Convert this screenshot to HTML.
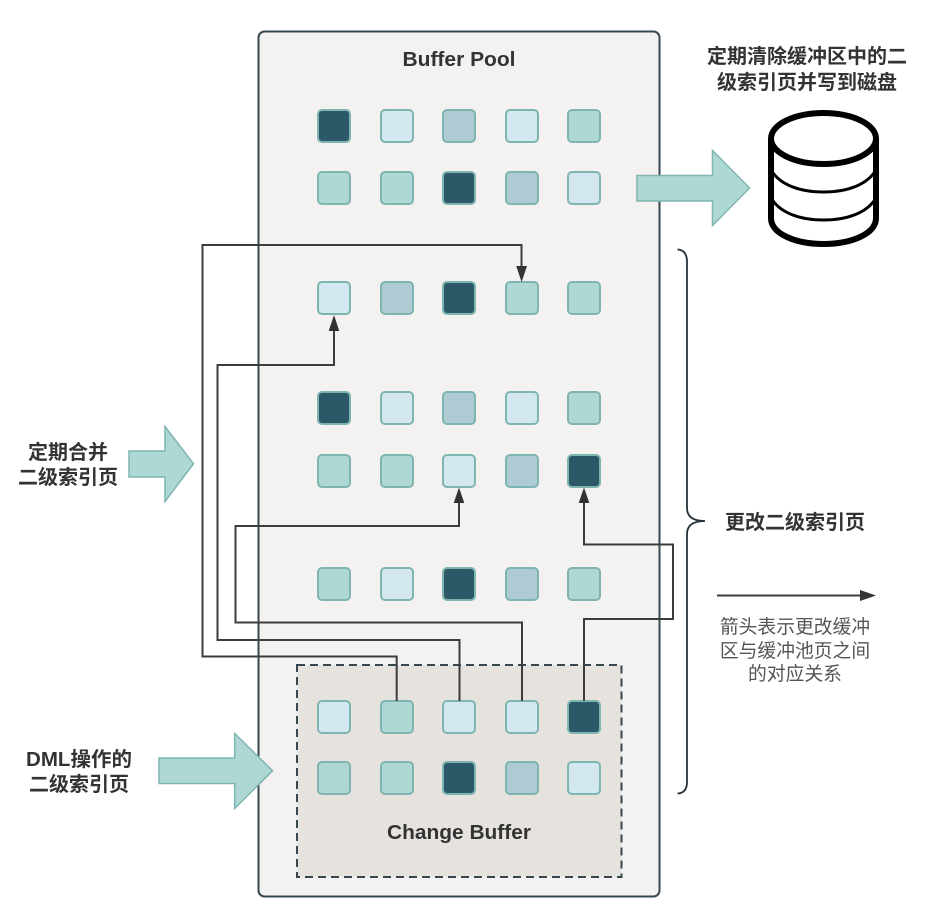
<!DOCTYPE html>
<html lang="zh">
<head>
<meta charset="utf-8">
<title>Change Buffer</title>
<style>
html,body{margin:0;padding:0;background:#fff;width:926px;height:917px;overflow:hidden}
svg{display:block}
.s{stroke:#7fb5b0;stroke-width:2}
.d{fill:#2c5967}.l{fill:#d2e7ef}.g{fill:#aecbd3}.t{fill:#aed8d4}
.c{fill:none;stroke:#3c3c3c;stroke-width:2}
.h{fill:#333;stroke:none}
.f{fill:#aed8d4;stroke:#7fb5b0;stroke-width:1.5}
text{font-family:"Liberation Sans","Noto Sans CJK SC",sans-serif;fill:#333;text-anchor:middle}
.b{font-weight:700;font-size:20px}
.r{font-size:18.8px;fill:#555}
</style>
</head>
<body>
<svg width="926" height="917" viewBox="0 0 926 917" xmlns="http://www.w3.org/2000/svg">
<rect x="258.5" y="31.5" width="401" height="865" rx="6" fill="#f3f2f1" stroke="#37474f" stroke-width="2"/>
<rect x="297" y="665" width="324.5" height="212" fill="#e6e3df" stroke="#37474f" stroke-width="2" stroke-dasharray="8 5"/>

<g class="s">
<rect class="s d" x="318" y="110" width="32" height="32" rx="4"/><rect class="s l" x="381" y="110" width="32" height="32" rx="4"/><rect class="s g" x="443" y="110" width="32" height="32" rx="4"/><rect class="s l" x="506" y="110" width="32" height="32" rx="4"/><rect class="s t" x="568" y="110" width="32" height="32" rx="4"/>
<rect class="s t" x="318" y="172" width="32" height="32" rx="4"/><rect class="s t" x="381" y="172" width="32" height="32" rx="4"/><rect class="s d" x="443" y="172" width="32" height="32" rx="4"/><rect class="s g" x="506" y="172" width="32" height="32" rx="4"/><rect class="s l" x="568" y="172" width="32" height="32" rx="4"/>
<rect class="s l" x="318" y="282" width="32" height="32" rx="4"/><rect class="s g" x="381" y="282" width="32" height="32" rx="4"/><rect class="s d" x="443" y="282" width="32" height="32" rx="4"/><rect class="s t" x="506" y="282" width="32" height="32" rx="4"/><rect class="s t" x="568" y="282" width="32" height="32" rx="4"/>
<rect class="s d" x="318" y="392" width="32" height="32" rx="4"/><rect class="s l" x="381" y="392" width="32" height="32" rx="4"/><rect class="s g" x="443" y="392" width="32" height="32" rx="4"/><rect class="s l" x="506" y="392" width="32" height="32" rx="4"/><rect class="s t" x="568" y="392" width="32" height="32" rx="4"/>
<rect class="s t" x="318" y="455" width="32" height="32" rx="4"/><rect class="s t" x="381" y="455" width="32" height="32" rx="4"/><rect class="s l" x="443" y="455" width="32" height="32" rx="4"/><rect class="s g" x="506" y="455" width="32" height="32" rx="4"/><rect class="s d" x="568" y="455" width="32" height="32" rx="4"/>
<rect class="s t" x="318" y="568" width="32" height="32" rx="4"/><rect class="s l" x="381" y="568" width="32" height="32" rx="4"/><rect class="s d" x="443" y="568" width="32" height="32" rx="4"/><rect class="s g" x="506" y="568" width="32" height="32" rx="4"/><rect class="s t" x="568" y="568" width="32" height="32" rx="4"/>
<rect class="s l" x="318" y="701" width="32" height="32" rx="4"/><rect class="s t" x="381" y="701" width="32" height="32" rx="4"/><rect class="s l" x="443" y="701" width="32" height="32" rx="4"/><rect class="s l" x="506" y="701" width="32" height="32" rx="4"/><rect class="s d" x="568" y="701" width="32" height="32" rx="4"/>
<rect class="s t" x="318" y="762" width="32" height="32" rx="4"/><rect class="s t" x="381" y="762" width="32" height="32" rx="4"/><rect class="s d" x="443" y="762" width="32" height="32" rx="4"/><rect class="s g" x="506" y="762" width="32" height="32" rx="4"/><rect class="s l" x="568" y="762" width="32" height="32" rx="4"/>
</g>

<path class="c" d="M396.7 701V656.5H202.5V245H521.5V268"/>
<polygon class="h" points="516.2,266 527,266 521.6,282"/>
<path class="c" d="M459.5 701V640H217.5V365H334V330"/>
<polygon class="h" points="328.7,331 339.3,331 334,315"/>
<path class="c" d="M522 701V622.5H235.5V526H459V502"/>
<polygon class="h" points="453.7,503 464.3,503 459,487.5"/>
<path class="c" d="M584 701V619H673V544.5H584V502"/>
<polygon class="h" points="578.7,503 589.3,503 584,487.5"/>

<polygon class="f" points="637,175.5 712.5,175.5 712.5,150.5 749.5,188 712.5,225.5 712.5,201 637,201"/>
<polygon class="f" points="129,451 165,451 165,426.5 193.5,463.7 165,501.5 165,477 129,477"/>
<polygon class="f" points="159,758 234.7,758 234.7,733.5 272.5,770.7 234.7,808.5 234.7,783.5 159,783.5"/>

<g fill="none" stroke="#000">
<path stroke-width="6" d="M771 138V218C771 234 796 244 823.5 244S876 234 876 218V138"/>
<ellipse stroke-width="6" cx="823.5" cy="138.5" rx="52.5" ry="25.5"/>
<path stroke-width="3" d="M771 170C780 185 800 192 823.5 192S867 185 876 170"/>
<path stroke-width="3" d="M771 198C780 213 800 220 823.5 220S867 213 876 198"/>
</g>

<path d="M677.5 249.5Q687 250 687 262V508Q687 521 705 521Q687 521 687 534V782Q687 793 677.5 793.5" fill="none" stroke="#263238" stroke-width="1.8"/>

<path class="c" d="M717 595.5H862"/>
<polygon class="h" points="860,590 860,601 876,595.5"/>

<text class="b" x="459" y="66" textLength="113" lengthAdjust="spacingAndGlyphs">Buffer Pool</text>
<text class="b" x="459" y="839" textLength="144" lengthAdjust="spacingAndGlyphs">Change Buffer</text>
<text class="b" x="807" y="63">定期清除缓冲区中的二</text>
<text class="b" x="807" y="89">级索引页并写到磁盘</text>
<text class="b" x="68" y="459">定期合并</text>
<text class="b" x="68" y="484">二级索引页</text>
<text class="b" x="79" y="766" textLength="106" lengthAdjust="spacingAndGlyphs">DML操作的</text>
<text class="b" x="79" y="791">二级索引页</text>
<text class="b" x="795" y="529">更改二级索引页</text>
<text class="r" x="795" y="633">箭头表示更改缓冲</text>
<text class="r" x="795" y="657">区与缓冲池页之间</text>
<text class="r" x="795" y="680">的对应关系</text>
</svg>
</body>
</html>
